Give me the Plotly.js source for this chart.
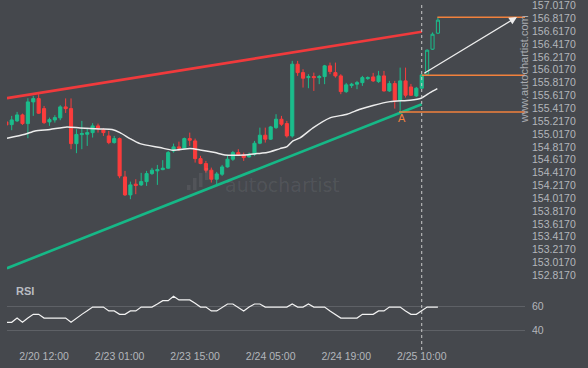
<!DOCTYPE html>
<html>
<head>
<meta charset="utf-8">
<script src="https://cdn.plot.ly/plotly-3.0.1.min.js"></script>
<style>
  html, body { margin: 0; padding: 0; background: #45484d; }
  #chart { width: 588px; height: 368px; }
</style>
</head>
<body>
<div id="chart"></div>
<script>
// ---- Data (hourly candles, index 0 = first full candle) ----
const candleIdx = [-1,0,1,2,3,4,5,6,7,8,9,10,11,12,13,14,15,16,17,18,19,20,21,22,23,24,25,26,27,28,29,30,31,32,33,34,35,36,37,38,39,40,41,42,43,44,45,46,47,48,49,50,51,52,53,54,55,56,57,58,59,60,61,62,63,64,65,66,67,68,69,70,71,72,73,74,75,76];
const openP = [155.205,155.163,155.221,155.314,155.179,155.517,155.568,155.412,155.205,155.236,155.268,155.439,155.412,154.867,155.007,155.013,155.038,155.143,155.081,154.987,154.883,154.945,154.348,154.068,154.235,154.224,154.275,154.400,154.442,154.462,154.484,154.753,154.816,154.795,154.945,154.909,154.633,154.556,154.453,154.312,154.390,154.504,154.624,154.727,154.691,154.660,154.702,154.873,154.998,154.936,155.116,155.247,155.179,154.987,156.104,155.973,155.895,155.911,155.895,155.911,156.078,155.973,155.922,155.677,155.771,155.793,155.817,155.880,155.906,155.833,155.922,155.688,155.802,155.543,155.844,155.750,155.610,155.730];
const highP = [155.221,155.299,155.361,155.334,155.574,155.610,155.637,155.454,155.272,155.310,155.465,155.571,155.571,155.091,155.221,155.112,155.185,155.179,155.107,155.065,154.987,154.961,154.442,154.275,154.312,154.411,154.442,154.489,154.535,154.609,154.753,154.867,154.898,154.961,155.038,154.945,154.676,154.598,154.493,154.426,154.535,154.676,154.753,154.780,154.727,154.727,154.909,155.116,155.116,155.143,155.325,155.299,155.221,156.156,156.156,156.026,155.948,155.973,155.937,156.093,156.129,156.129,155.948,155.813,155.813,155.844,155.922,155.914,155.969,156.000,156.000,155.844,155.844,156.051,156.051,155.797,155.750,155.953];
const lowP = [155.143,155.076,155.205,155.158,154.951,155.299,155.330,155.174,155.143,155.194,155.232,155.345,154.780,154.718,154.780,154.831,154.961,155.038,154.987,154.858,154.867,154.328,154.052,154.001,154.079,154.208,154.208,154.380,154.224,154.453,154.473,154.727,154.753,154.780,154.831,154.571,154.546,154.415,154.260,154.235,154.364,154.493,154.598,154.676,154.598,154.649,154.676,154.858,154.883,154.925,155.096,155.143,154.961,154.961,155.922,155.740,155.730,155.688,155.793,155.793,155.948,155.895,155.637,155.657,155.735,155.715,155.766,155.860,155.828,155.813,155.677,155.673,155.412,155.361,155.584,155.610,155.595,155.719];
const closeP = [155.158,155.236,155.314,155.179,155.517,155.568,155.341,155.194,155.241,155.272,155.439,155.412,154.867,155.010,155.023,155.038,155.143,155.107,155.038,154.883,154.945,154.364,154.068,154.224,154.216,154.275,154.400,154.453,154.462,154.484,154.727,154.816,154.795,154.945,154.920,154.633,154.556,154.453,154.312,154.395,154.504,154.624,154.727,154.691,154.649,154.702,154.873,154.998,154.936,155.127,155.247,155.169,154.987,156.104,155.973,155.886,155.911,155.895,155.911,156.078,155.989,155.922,155.677,155.782,155.793,155.817,155.895,155.895,155.844,155.922,155.688,155.802,155.543,155.844,155.621,155.621,155.730,155.937];

// candles after the pattern completed (drawn hollow)
const postIdx = [77,78,79];
const postOpen = [155.948,156.338,156.587];
const postHigh = [156.335,156.599,156.836];
const postLow = [155.937,156.327,156.576];
const postClose = [156.322,156.571,156.790];

// moving average
const maIdx = [-0.87,2.47,4.32,7.1,10.25,12.66,16.37,18.6,20.07,21.93,23.78,27.49,29.9,33.05,34.9,37.68,39.5,43.24,45.47,47.32,49.73,51.03,52.14,53.44,55.85,59,62.15,64.56,66.97,70.12,73.83,75.87,77.54,78.89];
const maVal = [154.951,155.013,155.065,155.088,155.127,155.112,155.096,155.088,155.038,154.945,154.867,154.805,154.764,154.789,154.769,154.727,154.691,154.691,154.711,154.727,154.789,154.820,154.909,154.956,155.112,155.268,155.325,155.403,155.462,155.521,155.543,155.574,155.662,155.724];

// RSI per candle
const rsiIdx = [-1,0,1,2,3,4,5,6,7,8,9,10,11,12,13,14,15,16,17,18,19,20,21,22,23,24,25,26,27,28,29,30,31,32,33,34,35,36,37,38,39,40,41,42,43,44,45,46,47,48,49,50,51,52,53,54,55,56,57,58,59,60,61,62,63,64,65,66,67,68,69,70,71,72,73,74,75,76,77,78,79];
const rsiVal = [46.8,46.8,50.4,46.8,50.4,53.5,53.5,50.4,50.4,50.4,50.4,50.4,46.8,50.4,53.5,56.5,59.7,59.7,59.7,56.4,56.4,53.5,53.5,56.4,56.4,59.7,59.7,59.7,62.3,65.1,65.1,68.8,65.7,65.7,65.7,62.9,59.7,59.7,56.4,56.4,59.7,62.3,62.3,59.7,56.4,59.7,62.3,62.3,59.7,59.7,59.7,59.7,59.7,62.3,59.7,59.7,62.3,59.7,59.7,59.7,56.4,53.5,50.4,50.4,50.4,50.4,53.5,53.5,53.5,56.4,56.4,59.7,59.7,59.7,56.4,53.5,53.5,56.4,59.7,59.7,59.7];

// pattern lines
const resX = [-0.87, 76];
const resY = [155.575, 156.609];
const supX = [-0.87, 76];
const supY = [152.926, 155.481];

// horizontal levels (start index, price)
const levelStart = [78.9, 76, 71.8];
const levelPrice = [156.836, 155.933, 155.361];

// forecast arrow (from -> to)
const arrowFrom = [76.18, 155.948];
const arrowTo = [93.66, 156.840];

// pattern point label
const pointA = {x: 72.35, y: 155.268, text: 'A'};
const completionIdx = 76;

// axis ticks
const xTickIdx = [6, 20, 34, 48, 62, 76];
const xTickText = ['2/20 12:00', '2/23 01:00', '2/23 15:00', '2/24 05:00', '2/24 19:00', '2/25 10:00'];
const yTickVals = [152.817,153.017,153.217,153.417,153.617,153.817,154.017,154.217,154.417,154.617,154.817,155.017,155.217,155.417,155.617,155.817,156.017,156.217,156.417,156.617,156.817,157.017];
const rsiTicks = [40, 60];

// ---- Styling ----
const BG = '#45484d';
const GREEN = '#1bbd8c';
const RED = '#fb3c3c';
const ORANGE = '#f2813d';
const TXT = '#b3b6bb';
const FONT = 'Liberation Sans, Arial, sans-serif';
const xMin = -0.87, xMax = 95.14;

const T = 4, B = 20;
const H = 368 - T - B;               // plot height in px
const py = p => 1 - (p - T) / H;      // page pixel row -> paper y
const PX_PER_PRICE = 64.19;           // vertical scale
const TOP_LABEL_ROW = 5.6;            // page row of the 157.0170 tick
const yTop = 157.017 + (TOP_LABEL_ROW - T) / PX_PER_PRICE;
const yBot = 157.017 - (285 - TOP_LABEL_ROW) / PX_PER_PRICE;

const traces = [];
traces.push({type:'scatter', mode:'lines', x: supX, y: supY, line:{color:'#16b887', width:2.6}, hoverinfo:'skip'});
traces.push({type:'scatter', mode:'lines', x: resX, y: resY, line:{color:'#f03a3c', width:2.6}, hoverinfo:'skip'});
traces.push({type:'scatter', mode:'lines', x: maIdx, y: maVal, line:{color:'#ececec', width:1.5, shape:'spline', smoothing:0.6}, hoverinfo:'skip'});
for (let k = 0; k < levelStart.length; k++) {
  traces.push({type:'scatter', mode:'lines', x:[levelStart[k], xMax], y:[levelPrice[k], levelPrice[k]], line:{color:ORANGE, width:1.5}, hoverinfo:'skip'});
}
traces.push({
  type:'candlestick', x: candleIdx, open: openP, high: highP, low: lowP, close: closeP,
  increasing:{line:{color:GREEN, width:1}, fillcolor:GREEN},
  decreasing:{line:{color:RED, width:1}, fillcolor:RED},
  whiskerwidth: 0, hoverinfo:'skip'
});
traces.push({
  type:'candlestick', x: postIdx, open: postOpen, high: postHigh, low: postLow, close: postClose,
  increasing:{line:{color:GREEN, width:1}, fillcolor:BG},
  decreasing:{line:{color:RED, width:1}, fillcolor:BG},
  whiskerwidth: 0, hoverinfo:'skip'
});
traces.push({type:'scatter', mode:'lines', x: rsiIdx, y: rsiVal, yaxis:'y2', line:{color:'#f2f2f2', width:1.2}, hoverinfo:'skip'});

const rsiPx = 23.6 / 20; // px per RSI point
const layout = {
  width: 588, height: 368,
  margin: {l:7, r:63, t:T, b:B},
  paper_bgcolor: BG, plot_bgcolor: BG,
  showlegend: false,
  boxgap: 0.18,
  font: {family: FONT, color: TXT, size: 10.5},
  xaxis: {
    range: [xMin, xMax], anchor: 'y2',
    tickmode: 'array', tickvals: xTickIdx, ticktext: xTickText,
    showgrid: false, zeroline: false, showline: false, ticks: '',
    tickfont: {family: FONT, color: TXT, size: 10.5},
    rangeslider: {visible: false}, fixedrange: true
  },
  yaxis: {
    domain: [py(285), 1], range: [yBot, yTop], side: 'right',
    tickmode: 'array', tickvals: yTickVals, ticktext: yTickVals.map(v => v.toFixed(4)),
    showgrid: false, zeroline: false, showline: false, ticks: '',
    ticklabelstandoff: 6, ticklabeloverflow: 'allow',
    tickfont: {family: FONT, color: TXT, size: 10.5}
  },
  yaxis2: {
    domain: [0, py(290)], range: [60 - (348 - 306.7) / rsiPx, 60 + (306.7 - 290) / rsiPx], side: 'right',
    tickmode: 'array', tickvals: rsiTicks,
    showgrid: true, gridcolor: '#5e6166', gridwidth: 1,
    zeroline: false, showline: false, ticks: '',
    ticklabelstandoff: 6,
    tickfont: {family: FONT, color: TXT, size: 10.5}
  },
  shapes: [
    {type:'line', xref:'x', yref:'paper', x0: completionIdx, x1: completionIdx, y0: py(350), y1: py(5),
     line:{color:'#c9c9c9', width:1, dash:'3px,3px'}},
    // watermark logo bars
    {type:'rect', xref:'paper', yref:'paper', x0:(187-7)/518, x1:(190.5-7)/518, y0:py(190), y1:py(185), fillcolor:'rgba(255,255,255,0.07)', line:{width:0}},
    {type:'rect', xref:'paper', yref:'paper', x0:(193-7)/518, x1:(196.5-7)/518, y0:py(190), y1:py(178), fillcolor:'rgba(255,255,255,0.07)', line:{width:0}},
    {type:'rect', xref:'paper', yref:'paper', x0:(199-7)/518, x1:(202.5-7)/518, y0:py(187), y1:py(173), fillcolor:'rgba(255,255,255,0.07)', line:{width:0}},
    {type:'rect', xref:'paper', yref:'paper', x0:(205-7)/518, x1:(208.5-7)/518, y0:py(180), y1:py(168), fillcolor:'rgba(255,255,255,0.07)', line:{width:0}}
  ],
  annotations: [
    {x: arrowTo[0], y: arrowTo[1], ax: arrowFrom[0], ay: arrowFrom[1], xref:'x', yref:'y', axref:'x', ayref:'y',
     showarrow: true, arrowhead: 2, arrowsize: 1.2, arrowwidth: 1.3, arrowcolor: '#ededed', text: ''},
    {x: pointA.x, y: pointA.y, xref:'x', yref:'y', text: pointA.text, showarrow:false,
     font:{family: FONT, color: ORANGE, size: 11}},
    {x: (14-7)/518, y: py(291), xref:'paper', yref:'paper', xanchor:'left', yanchor:'middle',
     text:'<b>RSI</b>', showarrow:false, font:{family: FONT, color:'#b9bcc1', size: 11}},
    {x: (524.3-7)/518, y: py(69), xref:'paper', yref:'paper', xanchor:'center', yanchor:'middle',
     text:'www.autochartist.com', textangle:-90, showarrow:false, font:{family: FONT, color:'#a9acb1', size: 11}},
    {x: (282-7)/518, y: py(185), xref:'paper', yref:'paper', xanchor:'center', yanchor:'middle',
     text:'autochartist', showarrow:false, font:{family:'DejaVu Sans, sans-serif', color:'rgba(255,255,255,0.08)', size: 19}}
  ]
};

Plotly.newPlot('chart', traces, layout, {staticPlot: true, displayModeBar: false});
</script>
</body>
</html>
